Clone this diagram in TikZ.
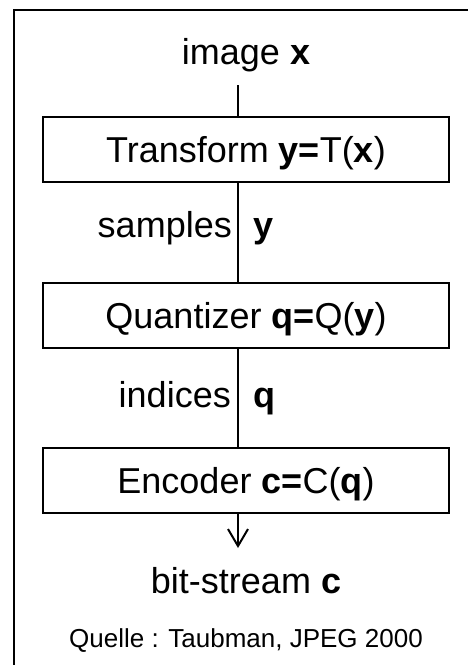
\documentclass[tikz,border=0pt]{standalone}
\usepackage{fontspec}
\setmainfont{Liberation Sans}
\usetikzlibrary{arrows.meta}

\begin{document}
\begin{tikzpicture}[x=1pt, y=-1pt,
  big/.style={font=\fontsize{36}{40}\selectfont, inner sep=0pt},
  small/.style={font=\fontsize{26}{30}\selectfont, inner sep=0pt},
  stage/.style={draw, line width=2pt, minimum width=406pt, minimum height=65pt,
    inner sep=0pt, text height=26pt, text depth=0pt,
    font=\fontsize{36}{40}\selectfont},
  link/.style={line width=2pt}]
  \useasboundingbox (0,0) rectangle (468,665);

  % open frame: top and left edges
  \draw[line width=2.5pt] (14,665) -- (14,10) -- (470,10);

  % input
  \node[big, anchor=base] (img) at (246,64) {image \textbf{x}};
  \coordinate (imgfoot) at (238,85);

  % the three stages
  \node[stage] (T) at (246,149.5) {Transform \textbf{y=}T(\textbf{x})};
  \node[stage] (Q) at (246,315) {Quantizer \textbf{q=}Q(\textbf{y})};
  \node[stage] (E) at (246,480) {Encoder \textbf{c=}C(\textbf{q})};

  % connectors
  \draw[link] (imgfoot) -- (imgfoot |- T.north);
  \draw[link] ([xshift=-8pt]T.south) -- ([xshift=-8pt]Q.north);
  \draw[link] ([xshift=-8pt]Q.south) -- ([xshift=-8pt]E.north);
  \coordinate (tip) at (238,548);
  \draw[link, -{Straight Barb[length=17pt,width=20pt]}] ([xshift=-8pt]E.south) -- (tip);

  % edge labels
  \node[big, anchor=base east] (smp) at (232,237) {samples};
  \node[big, anchor=base west] (smpy) at (253,237) {\textbf{y}};
  \node[big, anchor=base east] (idx) at (231,407) {indices};
  \node[big, anchor=base west] (idxq) at (253,407) {\textbf{q}};

  % output and source note
  \node[big, anchor=base] (bits) at (246,593) {bit-stream \textbf{c}};
  \node[small, anchor=base] (src) at (246,647) {Quelle : Taubman, JPEG 2000};
\end{tikzpicture}
\end{document}
